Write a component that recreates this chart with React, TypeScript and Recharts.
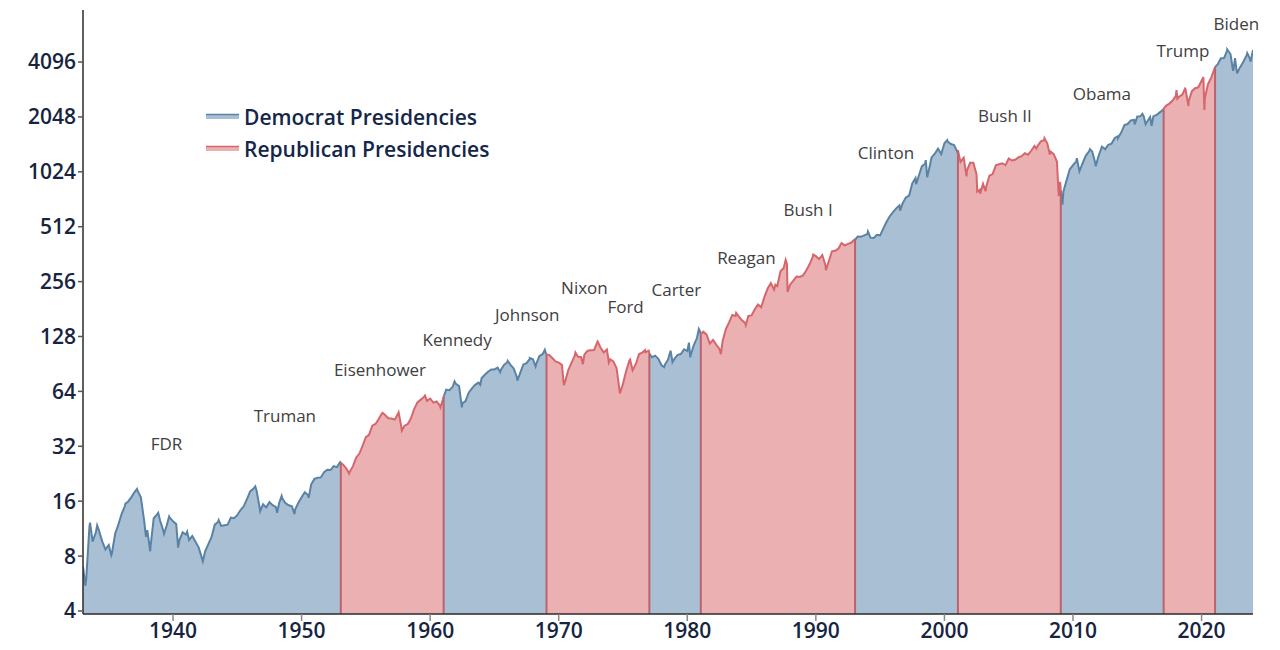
import React from 'react';
import { ComposedChart, Area, XAxis, YAxis, ReferenceLine, ReferenceDot, Legend } from 'recharts';

// S&P 500 level, sampled at the start of each quarter (Jan, Apr, Jul, Oct)
const startYear = 1933;
const quarterlyCloses: number[] = [
  7.0, 6.0, 11.6, 9.6, // 1933
  10.8, 11.0, 9.6, 8.7,
  9.2, 8.3, 10.6, 11.9,
  13.6, 15.0, 15.9, 16.8,
  17.9, 18.2, 16.8, 12.6,
  11.1, 9.0, 12.9, 13.5,
  12.5, 11.0, 11.7, 13.0,
  12.4, 12.0, 9.8, 10.8, // 1940
  10.5, 9.8, 10.3, 9.6,
  8.9, 7.8, 8.5, 9.3,
  10.2, 11.9, 12.3, 11.7,
  11.8, 11.9, 13.0, 12.9,
  13.4, 14.3, 15.0, 16.4,
  18.1, 18.7, 18.3, 14.6,
  15.4, 14.8, 15.8, 15.2,
  14.9, 15.6, 16.6, 15.6,
  15.2, 15.0, 14.4, 15.7,
  16.8, 17.9, 17.3, 19.8, // 1950
  21.2, 21.5, 21.6, 23.1,
  23.8, 23.7, 24.9, 24.6,
  26.2, 25.3, 24.1, 23.2,
  24.9, 27.8, 29.2, 32.3,
  35.9, 37.0, 41.5, 42.4,
  45.2, 48.5, 47.5, 45.6,
  45.4, 44.8, 48.2, 41.2,
  41.5, 42.3, 45.4, 51.0,
  55.5, 57.5, 59.5, 56.8,
  58.5, 55.5, 56.3, 53.6, // 1960
  58.0, 65.5, 65.0, 67.8,
  70.5, 68.5, 55.0, 56.6,
  63.0, 66.5, 69.5, 71.5,
  75.5, 79.0, 82.0, 84.5,
  84.5, 86.5, 84.0, 89.5,
  92.5, 89.5, 85.5, 76.5,
  80.5, 90.0, 91.5, 96.5,
  96.0, 90.5, 100.0, 102.5,
  103.5, 101.5, 97.5, 93.5,
  92.0, 89.5, 72.5, 84.0, // 1970
  92.0, 100.5, 99.0, 98.5,
  102.0, 107.0, 107.5, 108.0,
  119.0, 111.5, 104.5, 108.5,
  96.0, 93.5, 86.0, 63.5,
  70.5, 83.0, 94.5, 83.5,
  90.5, 102.5, 104.5, 105.0,
  107.0, 98.5, 100.5, 96.5,
  89.0, 89.5, 95.5, 102.5,
  96.5, 101.5, 102.5, 109.0,
  106.5, 100.5, 114.5, 125.5, // 1980
  136.0, 136.0, 131.0, 117.0,
  122.5, 115.5, 109.5, 121.0,
  140.5, 153.0, 168.0, 166.0,
  164.9, 157.0, 152.0, 166.0,
  167.0, 180.5, 191.5, 185.0,
  211.0, 235.0, 251.0, 231.0,
  242.0, 292.0, 304.0, 320.0,
  247.0, 259.0, 273.0, 271.5,
  277.0, 294.5, 317.5, 349.0,
  353.0, 340.0, 358.0, 314.0, // 1990
  330.0, 375.0, 378.0, 388.0,
  417.0, 404.0, 412.0, 418.0,
  435.7, 451.7, 450.5, 458.9,
  466.0, 445.8, 444.3, 462.7,
  459.3, 501.0, 544.8, 584.4,
  615.9, 645.5, 670.6, 687.3,
  740.7, 757.1, 885.1, 947.3,
  970.4, 1101.8, 1133.8, 1017.0,
  1229.2, 1286.4, 1372.7, 1282.7,
  1469.3, 1498.6, 1454.6, 1436.5, // 2000
  1320.3, 1160.3, 1224.4, 1040.9,
  1148.1, 1147.4, 989.8, 815.3,
  879.8, 848.2, 974.5, 995.9,
  1111.9, 1126.2, 1140.8, 1114.6,
  1211.9, 1180.6, 1191.3, 1228.8,
  1248.3, 1294.8, 1270.2, 1335.8,
  1418.3, 1420.9, 1503.4, 1526.8,
  1468.4, 1322.7, 1280.0, 1166.4,
  903.3, 797.9, 919.3, 1057.1,
  1115.1, 1169.4, 1030.7, 1141.2, // 2010
  1257.6, 1325.8, 1320.6, 1131.4,
  1257.6, 1408.5, 1362.2, 1440.7,
  1462.4, 1569.2, 1606.3, 1681.6,
  1848.4, 1872.3, 1960.2, 1972.3,
  2058.9, 2067.9, 2063.1, 1920.0,
  2043.9, 2059.7, 2098.9, 2168.3,
  2238.8, 2362.7, 2423.4, 2519.4,
  2673.6, 2640.9, 2718.4, 2913.9,
  2506.9, 2834.4, 2941.8, 2976.7,
  3230.8, 2584.6, 3100.3, 3363.0, // 2020
  3756.1, 3972.9, 4297.5, 4307.5,
  4766.2, 4530.4, 3785.4, 3585.6,
  3839.5, 4109.3, 4450.4, 4288.1,
  4769.8,
];

// peaks and troughs that fall between the quarterly samples
const turningPoints: [number, number][] = [
  [1933.18, 5.5], [1933.55, 12.2], [1934.1, 11.8], [1935.2, 8.1], [1936.3, 15.5], [1937.2, 18.7],
  [1937.9, 10.2], [1938.23, 8.5], [1938.85, 13.8], [1939.3, 10.6], [1939.7, 13.2], [1940.4, 8.9],
  [1941.1, 10.9], [1942.32, 7.5], [1943.55, 12.6], [1945.9, 17.4], [1946.4, 19.3], [1946.78, 14.1],
  [1948.1, 13.8], [1948.45, 17.1], [1949.45, 13.6], [1950.55, 16.7], [1953.7, 22.7], [1956.3, 48.8],
  [1957.55, 49.1], [1957.8, 39.0], [1959.6, 60.7], [1960.8, 52.3], [1961.9, 72.6], [1962.47, 52.3],
  [1963.9, 69.6], [1965.45, 81.6], [1966.03, 94.1], [1966.78, 73.2], [1967.75, 97.6], [1968.2, 87.7],
  [1968.92, 108.4], [1970.4, 69.3], [1971.3, 104.6], [1971.88, 90.2], [1973.03, 120.2], [1973.9, 92.2],
  [1974.76, 62.3], [1975.55, 95.6], [1976.72, 107.8], [1978.2, 86.9], [1978.7, 106.9], [1978.85, 92.7],
  [1980.13, 118.4], [1980.23, 98.2], [1980.9, 140.5], [1982.61, 102.4], [1983.8, 172.6], [1984.55, 147.8],
  [1986.85, 246.2], [1987.65, 336.8], [1987.8, 224.8], [1989.8, 359.8], [1990.78, 295.5], [1994.05, 482.0],
  [1996.55, 626.7], [1997.8, 876.9], [1998.55, 1186.8], [1998.66, 957.3], [2000.22, 1527.5],
  [2001.72, 965.8], [2002.55, 797.7], [2002.78, 776.8], [2003.2, 800.7], [2007.15, 1374.1],
  [2007.78, 1565.2], [2008.2, 1273.4], [2008.89, 752.4], [2009.18, 676.5], [2010.3, 1217.3],
  [2011.32, 1363.6], [2011.76, 1099.2], [2013.5, 1573.1], [2014.8, 1862.5], [2015.4, 2130.8],
  [2015.65, 1867.6], [2016.11, 1829.1], [2018.05, 2872.9], [2018.12, 2581.0], [2018.72, 2930.8],
  [2018.98, 2351.1], [2020.14, 3386.2], [2020.22, 2237.4], [2022.0, 4796.6], [2022.45, 3666.8],
  [2022.6, 4305.2], [2022.78, 3577.0], [2023.55, 4588.9], [2023.82, 4117.4],
];

// inaugurations where the White House changed party, with the index level on that day
const partySwitches: { date: number; close: number }[] = [
  { date: 1953.05, close: 26.0 },
  { date: 1961.05, close: 59.8 },
  { date: 1969.05, close: 102.0 },
  { date: 1977.05, close: 103.3 },
  { date: 1981.05, close: 131.7 },
  { date: 1993.05, close: 433.4 },
  { date: 2001.05, close: 1342.5 },
  { date: 2009.05, close: 805.2 },
  { date: 2017.05, close: 2271.3 },
  { date: 2021.05, close: 3851.9 },
];

const democratTerms: [number, number][] = [
  [1933, 1953.05],
  [1961.05, 1969.05],
  [1977.05, 1981.05],
  [1993.05, 2001.05],
  [2009.05, 2017.05],
  [2021.05, 2025],
];

const presidentLabels: { name: string; date: number; level: number }[] = [
  { name: 'FDR', date: 1939.5, level: 33 },
  { name: 'Truman', date: 1948.7, level: 47 },
  { name: 'Eisenhower', date: 1956.1, level: 84 },
  { name: 'Kennedy', date: 1962.1, level: 122 },
  { name: 'Johnson', date: 1967.55, level: 168 },
  { name: 'Nixon', date: 1972.0, level: 237 },
  { name: 'Ford', date: 1975.2, level: 186 },
  { name: 'Carter', date: 1979.15, level: 229 },
  { name: 'Reagan', date: 1984.6, level: 345 },
  { name: 'Bush I', date: 1989.4, level: 636 },
  { name: 'Clinton', date: 1995.45, level: 1300 },
  { name: 'Bush II', date: 2004.7, level: 2064 },
  { name: 'Obama', date: 2012.25, level: 2740 },
  { name: 'Trump', date: 2018.55, level: 4680 },
  { name: 'Biden', date: 2022.7, level: 6640 },
];

const yTicks = [4, 8, 16, 32, 64, 128, 256, 512, 1024, 2048, 4096];
const xTicks = [1940, 1950, 1960, 1970, 1980, 1990, 2000, 2010, 2020];

const yMin = 3.85;
const yMax = 7900;

const colors = {
  demFill: '#a9bfd4',
  demLine: '#5a82a5',
  repFill: '#eab0b2',
  repLine: '#d7666c',
  divider: '#b9636d',
  axis: '#2a2a2a',
  tick: '#16243f',
  label: '#404040',
};

const tickFont = { fill: colors.tick, fontSize: 21, fontWeight: 600, fontFamily: '"Open Sans", sans-serif' };

const isDemocrat = (date: number) => democratTerms.some(([a, b]) => date >= a && date < b);

type Row = { date: number; dem: number | null; rep: number | null };

const buildRows = (): Row[] => {
  const samples: [number, number][] = [
    ...quarterlyCloses.map((c, i) => [startYear + i / 4, c] as [number, number]),
    ...turningPoints,
  ];
  const rows: Row[] = samples.map(([date, close]) => {
    const dem = isDemocrat(date);
    return { date, dem: dem ? close : null, rep: dem ? null : close };
  });
  partySwitches.forEach((s) => rows.push({ date: s.date, dem: s.close, rep: s.close }));
  return rows.sort((a, b) => a.date - b.date);
};

const rows = buildRows();

const LegendBox = () => (
  <div style={{ fontFamily: '"Open Sans", sans-serif', fontWeight: 600, fontSize: 21, color: '#14264a' }}>
    {[
      { label: 'Democrat Presidencies', fill: colors.demFill, line: colors.demLine },
      { label: 'Republican Presidencies', fill: colors.repFill, line: colors.repLine },
    ].map((item) => (
      <div key={item.label} style={{ display: 'flex', alignItems: 'center', height: 32 }}>
        <svg width={37} height={8} style={{ marginRight: 2 }}>
          <rect x={1} y={1} width={33} height={5} fill={item.fill} />
          <line x1={1} x2={34} y1={1.5} y2={1.5} stroke={item.line} strokeWidth={1.5} />
        </svg>
        <span>{item.label}</span>
      </div>
    ))}
  </div>
);

export default function App() {
  return (
    <div style={{ position: 'absolute', left: 0, top: 0, width: 1280, height: 650, background: '#ffffff' }}>
      <ComposedChart
        width={1280}
        height={650}
        data={rows}
        margin={{ top: 10, right: 27, bottom: 0, left: 0 }}
      >
        <XAxis
          dataKey="date"
          type="number"
          domain={[1933, 2024]}
          ticks={xTicks}
          allowDataOverflow
          height={36}
          stroke={colors.axis}
          strokeWidth={1.5}
          tickSize={7}
          tickLine={{ stroke: '#888888' }}
          tick={tickFont}
        />
        <YAxis
          type="number"
          scale="log"
          domain={[yMin, yMax]}
          ticks={yTicks}
          allowDataOverflow
          width={83}
          stroke={colors.axis}
          strokeWidth={1.5}
          tickSize={5}
          tickLine={{ stroke: '#555555' }}
          tick={tickFont}
        />
        <Area
          type="linear"
          dataKey="dem"
          baseValue={yMin}
          stroke={colors.demLine}
          strokeWidth={2}
          fill={colors.demFill}
          fillOpacity={1}
          dot={false}
          activeDot={false}
          isAnimationActive={false}
        />
        <Area
          type="linear"
          dataKey="rep"
          baseValue={yMin}
          stroke={colors.repLine}
          strokeWidth={2}
          fill={colors.repFill}
          fillOpacity={1}
          dot={false}
          activeDot={false}
          isAnimationActive={false}
        />
        {partySwitches.map((s) => (
          <ReferenceLine
            key={s.date}
            segment={[
              { x: s.date, y: yMin },
              { x: s.date, y: s.close },
            ]}
            stroke={colors.divider}
            strokeWidth={2}
          />
        ))}
        {presidentLabels.map((p) => (
          <ReferenceDot
            key={p.name}
            x={p.date}
            y={p.level}
            r={0}
            fill="none"
            stroke="none"
            label={{
              value: p.name,
              position: 'center',
              fill: colors.label,
              fontSize: 17,
              fontFamily: '"Open Sans", sans-serif',
            }}
          />
        ))}
        <Legend
          layout="vertical"
          align="center"
          verticalAlign="middle"
          content={() => <LegendBox />}
          wrapperStyle={{ left: 205, top: 101, width: 320 }}
        />
      </ComposedChart>
    </div>
  );
}
